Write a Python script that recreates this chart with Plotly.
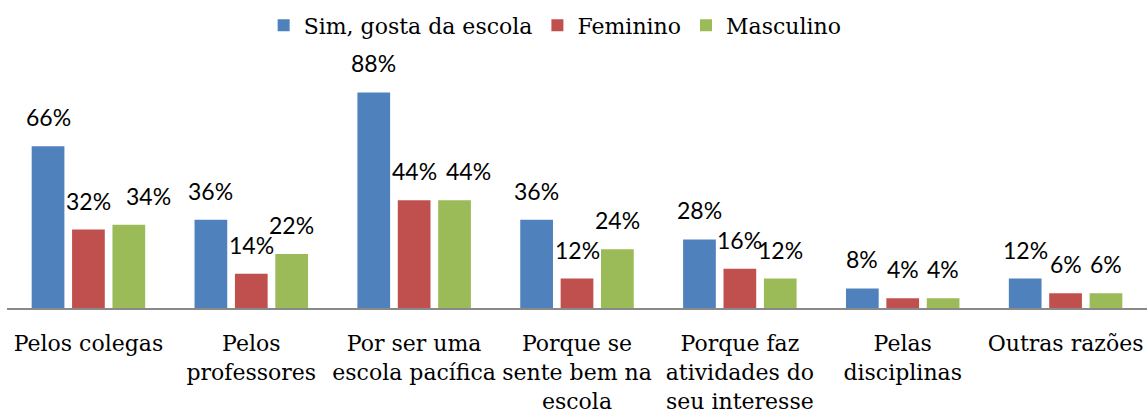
import plotly.graph_objects as go

categories = [
    "Pelos colegas",
    "Pelos<br>professores",
    "Por ser uma<br>escola pacífica",
    "Porque se<br>sente bem na<br>escola",
    "Porque faz<br>atividades do<br>seu interesse",
    "Pelas<br>disciplinas",
    "Outras razões",
]
series_names = ["Sim, gosta da escola", "Feminino", "Masculino"]
sim = [66, 36, 88, 36, 28, 8, 12]
feminino = [32, 14, 44, 12, 16, 4, 6]
masculino = [34, 22, 44, 24, 12, 4, 6]

colors = ["#4F81BD", "#C0504D", "#9BBB59"]
values = [sim, feminino, masculino]
# small horizontal nudges of some value labels (series index, category index) -> px
label_nudge = {(2, 0): 20, (2, 2): 14}

W, H = 1147, 415
ML, MR, MT, MB = 7, 0, 63, 107
bargap = 0.256
bargroupgap = 0.19

xs = list(range(len(categories)))
fig = go.Figure()
for name, vals, col in zip(series_names, values, colors):
    fig.add_trace(go.Bar(
        x=xs, y=vals, name=name,
        marker=dict(color=col, line=dict(width=0)),
    ))

slot = (1 - bargap) / len(values)
annotations = []
for k, vals in enumerate(values):
    off = (k - (len(values) - 1) / 2) * slot
    for i, v in enumerate(vals):
        annotations.append(dict(
            x=i + off, y=v, xref="x", yref="y",
            text=f"{v}%", showarrow=False,
            yanchor="bottom", xanchor="center", yshift=13,
            xshift=label_nudge.get((k, i), 0),
            font=dict(family="Lato", size=23, color="#000000"),
        ))

fig.update_layout(
    width=W, height=H,
    margin=dict(l=ML, r=MR, t=MT, b=MB, autoexpand=False),
    paper_bgcolor="white", plot_bgcolor="white",
    barmode="group", bargap=bargap, bargroupgap=bargroupgap,
    annotations=annotations,
    showlegend=True,
    legend=dict(
        orientation="h", x=0.484, xanchor="center", xref="container",
        y=1 - 25.5 / H, yanchor="middle", yref="container",
        font=dict(family="DejaVu Serif", size=22, color="#000000"),
        itemclick=False, traceorder="normal",
    ),
    xaxis=dict(
        range=[-0.5, len(categories) - 0.5],
        tickmode="array", tickvals=xs, ticktext=categories,
        showline=True, linecolor="#898989", linewidth=2,
        showgrid=False, zeroline=False, ticks="",
        automargin=False,
        ticklabelstandoff=15,
        tickfont=dict(family="DejaVu Serif", size=22, color="#000000"),
    ),
    yaxis=dict(range=[0, 100], visible=False, showgrid=False,
               zeroline=False, automargin=False),
)

fig.write_html(
    "out.html",
    config={"displayModeBar": False},
    post_script="document.body.style.margin='0';document.body.style.overflow='hidden';",
)
